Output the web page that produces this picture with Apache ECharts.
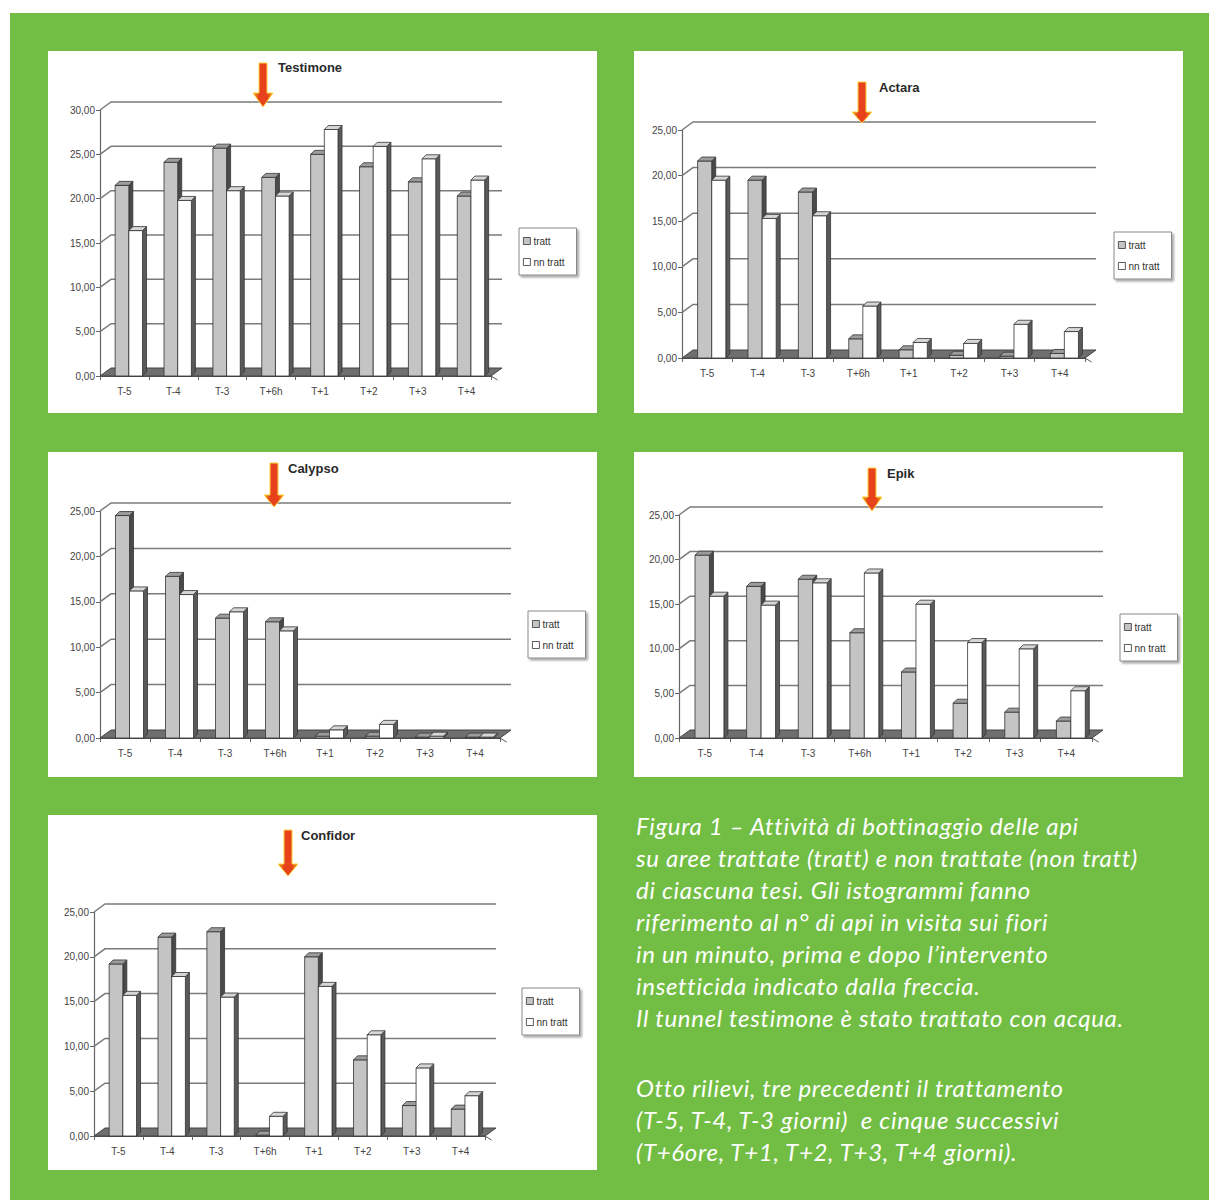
<!DOCTYPE html>
<html>
<head>
<meta charset="utf-8">
<script src="https://cdn.jsdelivr.net/npm/echarts@6/dist/echarts.min.js"></script>
<style>
  html, body { margin:0; padding:0; background:#fff; }
  #page { position:relative; width:1209px; height:1200px; overflow:hidden; background:#fff; }
  #green { position:absolute; left:10px; top:13px; width:1199px; height:1187px; background:#72be44; }
  .panel { position:absolute; background:#fff; }
  #chart { position:absolute; left:0; top:0; width:1209px; height:1200px; }
  .cap { position:absolute; left:636px; color:#fff; font-family:Lato, "Noto Sans", sans-serif; font-style:italic; font-weight:400; font-size:24px; letter-spacing:0.7px; line-height:32px; white-space:nowrap; }
</style>
</head>
<body>
<div id="page">
  <div id="green"></div>
  <div class="panel" style="left:48px;top:51px;width:549px;height:362px"></div>
  <div class="panel" style="left:634px;top:51px;width:549px;height:362px"></div>
  <div class="panel" style="left:48px;top:452px;width:549px;height:325px"></div>
  <div class="panel" style="left:634px;top:452px;width:549px;height:325px"></div>
  <div class="panel" style="left:48px;top:815px;width:549px;height:355px"></div>
  <div id="chart"></div>
  <div class="cap" style="top:810px">Figura 1 – Attività di bottinaggio delle api<br>su aree trattate (tratt) e non trattate (non tratt)<br>di ciascuna tesi. Gli istogrammi fanno<br>riferimento al n° di api in visita sui fiori<br>in un minuto, prima e dopo l’intervento<br>insetticida indicato dalla freccia.<br>Il tunnel testimone è stato trattato con acqua.</div>
  <div class="cap" style="top:1072px">Otto rilievi, tre precedenti il trattamento<br>(T-5, T-4, T-3 giorni)&nbsp; e cinque successivi<br>(T+6ore, T+1, T+2, T+3, T+4 giorni).</div>
</div>
<script>
// ---------- data ----------
const categories = ['T-5', 'T-4', 'T-3', 'T+6h', 'T+1', 'T+2', 'T+3', 'T+4'];
const legendNames = ['tratt', 'nn tratt'];

const testimoneTratt    = [21.5, 24.1, 25.7, 22.4, 25.0, 23.6, 21.9, 20.3];
const testimoneNonTratt = [16.4, 19.8, 20.9, 20.3, 27.8, 25.9, 24.5, 22.1];

const actaraTratt       = [21.6, 19.5, 18.2, 2.1, 0.9, 0.3, 0.2, 0.5];
const actaraNonTratt    = [19.5, 15.3, 15.6, 5.7, 1.7, 1.6, 3.7, 2.9];

const calypsoTratt      = [24.5, 17.8, 13.2, 12.8, 0.2, 0.2, 0.1, 0.1];
const calypsoNonTratt   = [16.2, 15.8, 13.9, 11.8, 0.9, 1.5, 0.2, 0.1];

const epikTratt         = [20.5, 17.0, 17.8, 11.8, 7.4, 3.9, 2.9, 1.9];
const epikNonTratt      = [15.9, 14.9, 17.4, 18.5, 15.0, 10.7, 10.0, 5.3];

const confidorTratt     = [19.2, 22.2, 22.8, 0.1, 20.0, 8.5, 3.4, 3.0];
const confidorNonTratt  = [15.7, 17.8, 15.5, 2.2, 16.7, 11.3, 7.6, 4.5];

const ticks30 = [0, 5, 10, 15, 20, 25, 30];
const ticks25 = [0, 5, 10, 15, 20, 25];

// ---------- layout ----------
const panels = [
  { title:'Testimone', tratt:testimoneTratt, nn:testimoneNonTratt, ticks:ticks30,
    grid:{left:100, top:110, width:391, height:266}, titleAt:[278, 61], arrow:[263, 63, 93, 107], legendAt:[519, 228] },
  { title:'Actara', tratt:actaraTratt, nn:actaraNonTratt, ticks:ticks25,
    grid:{left:682, top:130, width:403, height:228}, titleAt:[879, 81], arrow:[862, 82, 112, 123], legendAt:[1114, 232] },
  { title:'Calypso', tratt:calypsoTratt, nn:calypsoNonTratt, ticks:ticks25,
    grid:{left:100, top:511, width:400, height:227}, titleAt:[288, 462], arrow:[274, 463, 495, 507], legendAt:[528, 611] },
  { title:'Epik', tratt:epikTratt, nn:epikNonTratt, ticks:ticks25,
    grid:{left:679, top:515, width:413, height:223}, titleAt:[887, 467], arrow:[872, 468, 497, 511], legendAt:[1120, 614] },
  { title:'Confidor', tratt:confidorTratt, nn:confidorNonTratt, ticks:ticks25,
    grid:{left:94, top:912, width:391, height:224}, titleAt:[301, 829], arrow:[288, 830, 864, 876], legendAt:[522, 988] }
];

const WALL = [11, 8];   // back-wall depth offset
const BAR = [4, 4];     // bar depth offset
const EDGE = '#333';

function frameRender(params, api) {
  const v = api.value(1);
  const cs = params.coordSys;
  const y = api.coord([0, v])[1];
  const x0 = cs.x, x1 = cs.x + cs.width;
  const ch = [];
  if (v === 0) {
    ch.push({ type:'polygon', shape:{ points:[[x0, y], [x1, y], [x1 + WALL[0], y - WALL[1]], [x0 + WALL[0], y - WALL[1]]] },
      style:{ fill:'#6f6f6f', stroke:'#444', lineWidth:1 } });
    ch.push({ type:'line', shape:{ x1:x1, y1:y, x2:x1 + WALL[0] * 0.6, y2:y + 4 }, style:{ stroke:'#555', lineWidth:1 } });
  } else {
    ch.push({ type:'polyline', shape:{ points:[[x0, y], [x0 + WALL[0], y - WALL[1]], [x1 + WALL[0], y - WALL[1]]] },
      style:{ stroke:'#7b7b7b', lineWidth:1.5, fill:null } });
  }
  return { type:'group', children:ch };
}

function barRender(which, front, top, side) {
  return function (params, api) {
    const i = api.value(0), v = api.value(1);
    const pT = api.coord([i, v]);
    const pB = api.coord([i, 0]);
    const bw = api.size([1, 0])[0];
    const w = bw * 0.28, off = bw * 0.09;
    const x1 = which === 0 ? pT[0] + off - w : pT[0] + off;
    const x2 = x1 + w;
    const yt = pT[1], yb = pB[1];
    const dx = BAR[0], dy = BAR[1];
    return { type:'group', children:[
      { type:'polygon', shape:{ points:[[x2, yb], [x2, yt], [x2 + dx, yt - dy], [x2 + dx, yb - dy]] },
        style:{ fill:side, stroke:EDGE, lineWidth:0.8 } },
      { type:'rect', shape:{ x:x1, y:yt, width:w, height:Math.max(yb - yt, 0) },
        style:{ fill:front, stroke:EDGE, lineWidth:0.8 } },
      { type:'polygon', shape:{ points:[[x1, yt], [x2, yt], [x2 + dx, yt - dy], [x1 + dx, yt - dy]] },
        style:{ fill:top, stroke:EDGE, lineWidth:0.8 } }
    ]};
  };
}

const fmt = v => v.toFixed(2).replace('.', ',');
const option = {
  animation:false, grid:[], xAxis:[], yAxis:[], series:[], title:[], legend:[], graphic:[]
};

panels.forEach((p, k) => {
  option.grid.push(Object.assign({ containLabel:false }, p.grid));
  option.xAxis.push({ type:'category', gridIndex:k, data:categories,
    axisLine:{ show:true, lineStyle:{ color:'#555', width:1 } },
    axisTick:{ show:true, length:4, lineStyle:{ color:'#666' } },
    axisLabel:{ fontSize:10, color:'#444', margin:10, fontFamily:'Liberation Sans, Arial' },
    splitLine:{ show:false } });
  const mx = p.ticks[p.ticks.length - 1];
  option.yAxis.push({ type:'value', gridIndex:k, min:0, max:mx, interval:5,
    axisLine:{ show:true, lineStyle:{ color:'#666', width:1.2 } },
    axisTick:{ show:true, length:4, lineStyle:{ color:'#666' } },
    splitLine:{ show:false },
    axisLabel:{ formatter:fmt, fontSize:10, color:'#444', margin:5, fontFamily:'Liberation Sans, Arial' } });
  option.series.push({ type:'custom', name:'frame', xAxisIndex:k, yAxisIndex:k, z:1, silent:true,
    data:p.ticks.map(t => [0, t]), encode:{ x:0, y:1 }, renderItem:frameRender });
  option.series.push({ type:'custom', name:legendNames[0], xAxisIndex:k, yAxisIndex:k, z:3,
    itemStyle:{ color:'#c4c4c4', borderColor:EDGE, borderWidth:0.8 },
    data:p.tratt.map((v, i) => [i, v]), encode:{ x:0, y:1 },
    renderItem:barRender(0, '#c4c4c4', '#9c9c9c', '#4a4a4a') });
  option.series.push({ type:'custom', name:legendNames[1], xAxisIndex:k, yAxisIndex:k, z:4,
    itemStyle:{ color:'#ffffff', borderColor:EDGE, borderWidth:0.8 },
    data:p.nn.map((v, i) => [i, v]), encode:{ x:0, y:1 },
    renderItem:barRender(1, '#ffffff', '#d6d6d6', '#5a5a5a') });
  option.title.push({ text:p.title, left:p.titleAt[0], top:p.titleAt[1], padding:0,
    textStyle:{ fontSize:13, fontWeight:'bold', color:'#2a2a2a', fontFamily:'Liberation Sans, Arial' } });
  option.legend.push({ data:legendNames, left:p.legendAt[0], top:p.legendAt[1], orient:'vertical',
    icon:'rect', itemWidth:7, itemHeight:7, itemGap:11, padding:[8, 12, 8, 4],
    borderColor:'#888', borderWidth:1, backgroundColor:'#fff',
    shadowColor:'rgba(0,0,0,0.35)', shadowBlur:2, shadowOffsetX:2, shadowOffsetY:2,
    selectedMode:false,
    itemStyle:{ borderColor:'#333', borderWidth:0.8 },
    textStyle:{ fontSize:10, color:'#333', padding:[0, 0, 0, -2], fontFamily:'Liberation Sans, Arial' } });
  const [cx, y0, yh, yt] = p.arrow;
  const sw = 4, hw = 10;
  option.graphic.push({ type:'polygon', z:100,
    shape:{ points:[[cx - sw, y0], [cx + sw, y0], [cx + sw, yh], [cx + hw, yh], [cx, yt], [cx - hw, yh], [cx - sw, yh]] },
    style:{ fill:new echarts.graphic.LinearGradient(0, 0, 1, 0, [
        { offset:0, color:'#f7a21b' }, { offset:0.3, color:'#e8421c' },
        { offset:0.7, color:'#e8421c' }, { offset:1, color:'#f7a21b' }]),
      stroke:'#fcd33a', lineWidth:1 } });
});

const chart = echarts.init(document.getElementById('chart'), null, { renderer:'svg', width:1209, height:1200 });
chart.setOption(option);
</script>
</body>
</html>
